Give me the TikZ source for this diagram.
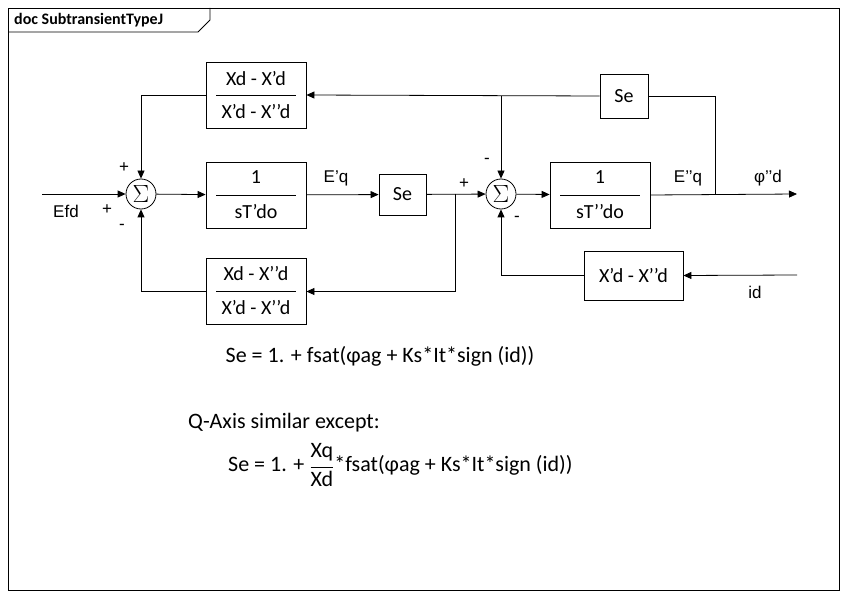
\documentclass[tikz,border=0pt]{standalone}
\usepackage{fontspec}
\setmainfont{Carlito}
\newfontfamily\arl{Liberation Sans}
\usetikzlibrary{arrows.meta}
\begin{document}
\begin{tikzpicture}[x=1pt,y=-1pt,
  blk/.style={draw,line width=0.8pt,minimum width=100pt,minimum height=66pt,inner sep=0pt,font=\fontsize{20}{22}\selectfont},
  sblk/.style={draw,line width=0.8pt,inner sep=0pt,font=\fontsize{20}{22}\selectfont},
  sum/.style={draw,circle,line width=0.8pt,minimum size=30pt,inner sep=0pt,font=\fontsize{24}{26}\selectfont},
  ln/.style={line width=0.8pt},
  ar/.style={line width=0.8pt,-{Triangle[length=8pt,width=7pt]}},
  lbl/.style={font=\fontsize{20}{22}\selectfont,inner sep=0pt},
  albl/.style={font=\arl\fontsize{17}{19}\selectfont,inner sep=0pt}]
\useasboundingbox (0,0) rectangle (847,599);
\fill[white] (0,0) rectangle (847,599);
\draw[line width=0.8pt] (8,8) rectangle (839,590);
\draw[line width=0.8pt] (8,32) -- (198,32) -- (210,20) -- (210,8);
\node[anchor=west,inner sep=0pt,font=\bfseries\fontsize{16}{18}\selectfont] (tab) at (14,20) {doc SubtransientTypeJ};
% nodes
\node[sum] (s1) at (141,194) {$\Sigma$};
\node[sum] (s2) at (501,194) {$\Sigma$};
\node[blk] (top) at (256,95) {};
\draw[ln] (216,95) -- (296,95);
\node[lbl] (topn) at (256,79) {Xd - X’d};
\node[lbl] (topd) at (256,112) {X’d - X’’d};
\node[blk] (mid) at (256,195) {};
\draw[ln] (216,195) -- (296,195);
\node[lbl] (midn) at (256,177) {1};
\node[lbl] (midd) at (256,212) {sT’do};
\node[blk] (bot) at (256,291.5) {};
\draw[ln] (216,291) -- (296,291);
\node[lbl] (botn) at (256,274) {Xd - X’’d};
\node[lbl] (botd) at (256,308) {X’d - X’’d};
\node[blk] (mid2) at (600,195) {};
\draw[ln] (560,195) -- (640,195);
\node[lbl] (m2n) at (600,177) {1};
\node[lbl] (m2d) at (600,212) {sT’’do};
\node[sblk,minimum width=47pt,minimum height=41pt] (se) at (402.5,194.5) {Se};
\node[sblk,minimum width=48pt,minimum height=44pt] (se2) at (624,96) {Se};
\node[sblk,minimum width=99pt,minimum height=49pt] (xb) at (633.5,275.5) {X’d - X’’d};
% coordinates
\coordinate (in) at (42,194);
\coordinate (b1) at (455,194);
\coordinate (b2) at (715,194);
\coordinate (out) at (797,194);
\coordinate (idin) at (797,275);
% connectors
\draw[ar] (in) -- (s1);
\draw[ar] (s1) -- (mid);
\draw[ar] (mid) -- (se);
\draw[ar] (se) -- (s2);
\draw[ar] (s2) -- (mid2);
\draw[ar] (mid2.east) -- (out);
\draw[ln] (b2) |- (se2.east);
\draw[ar] (se2.west) -- (top.east);
\draw[ar] (501,96) -- (s2.north);
\draw[ar] (top.west) -| (s1.north);
\draw[ar] (b1) |- (bot.east);
\draw[ar] (bot.west) -| (s1.south);
\draw[ar] (idin) -- (xb.east);
\draw[ar] (xb.west) -| (s2.south);
% labels
\node[albl] at (124,168) {+};
\node[albl] at (107,210) {+};
\node[albl] at (122,227) {-};
\node[albl] at (66,211) {Efd};
\node[albl] at (336,178) {E’q};
\node[albl] at (464,184) {+};
\node[albl] at (487,161) {-};
\node[albl] at (517,219) {-};
\node[albl] at (688,178) {E’’q};
\node[albl] at (768,178) {φ’’d};
\node[albl] at (755,292) {id};
\node[lbl,font=\fontsize{22}{24}\selectfont] (eq1) at (380,356) {Se = 1. + fsat(φag + Ks*It*sign (id))};
\node[lbl,anchor=west,font=\fontsize{22}{24}\selectfont] (qa) at (188,423) {Q-Axis similar except:};
\node[lbl,anchor=west,font=\fontsize{22}{24}\selectfont] (eq2) at (228,465) {Se = 1. + $\displaystyle\frac{\hbox{Xq}}{\hbox{Xd}}$*fsat(φag + Ks*It*sign (id))};
\end{tikzpicture}
\end{document}
